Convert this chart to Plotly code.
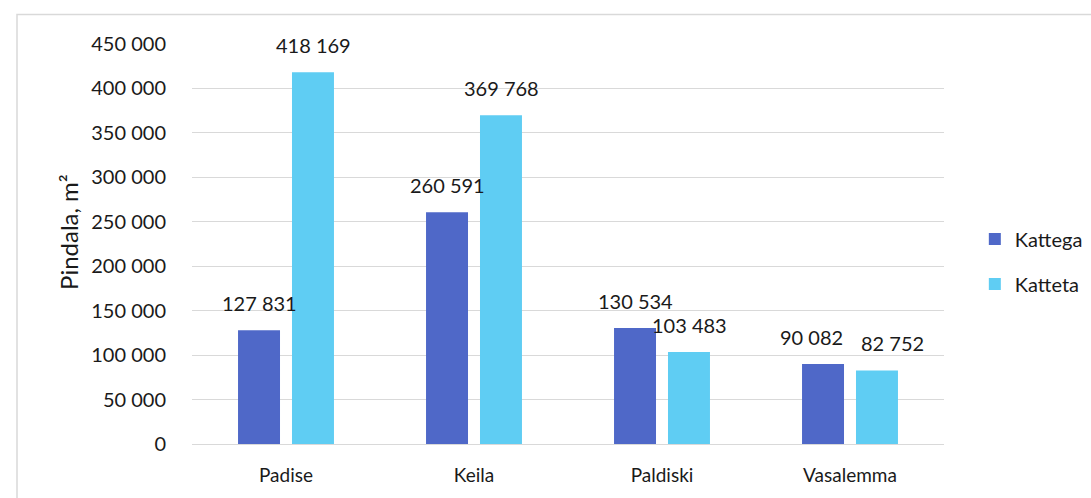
import plotly.graph_objects as go

categories = ["Padise", "Keila", "Paldiski", "Vasalemma"]
kattega = [127831, 260591, 130534, 90082]
katteta = [418169, 369768, 103483, 82752]
series_names = ["Kattega", "Katteta"]
colors = ["#4F68C8", "#5FCDF3"]
tick_vals = [0, 50000, 100000, 150000, 200000, 250000, 300000, 350000, 400000, 450000]

# extra horizontal nudge (px) of data labels, to avoid collisions as in the original
label_nudge = {("Vasalemma", 0): -12, ("Vasalemma", 1): 15}


def fmt(v):
    return f"{v:,}".replace(",", " ")


FONT = "Lato"
TXT = "#1a1a1a"
fig = go.Figure()
for i, (name, vals) in enumerate(zip(series_names, [kattega, katteta])):
    fig.add_trace(go.Bar(
        x=categories, y=vals, name=name, marker_color=colors[i],
        marker_line_width=0, legendgroup=name,
    ))
    for c, v in zip(categories, vals):
        fig.add_annotation(
            x=c, y=v, text=fmt(v), showarrow=False, xref="x", yref="y",
            xshift=(-27 if i == 0 else 27) + label_nudge.get((c, i), 0),
            yshift=13, yanchor="bottom",
            font=dict(family=FONT, size=20, color=TXT),
        )

fig.add_annotation(
    xref="paper", yref="paper", x=-0.165, y=0.53, text="Pindala, m²",
    textangle=-90, showarrow=False, xanchor="center", yanchor="middle",
    font=dict(family=FONT, size=24, color=TXT),
)

fig.add_shape(
    type="rect", xref="paper", yref="paper",
    x0=-0.2327, x1=1.5, y0=-0.5, y1=1.074,
    line=dict(color="#D9D9D9", width=1.5), fillcolor="rgba(0,0,0,0)", layer="below",
)

fig.update_layout(
    width=1091, height=498,
    margin=dict(l=192, r=147, t=44, b=54, autoexpand=False),
    paper_bgcolor="white", plot_bgcolor="white",
    barmode="group", bargap=0.426, bargroupgap=0.222,
    font=dict(family=FONT, size=20, color=TXT),
    legend=dict(
        x=1.041, y=0.456, xanchor="left", yanchor="middle",
        font=dict(family=FONT, size=20, color=TXT),
        tracegroupgap=16, itemwidth=30,
    ),
    showlegend=True,
)
fig.update_xaxes(
    showgrid=False, showline=False, ticks="", tickfont=dict(size=19),
    ticklabelstandoff=18,
)
fig.update_yaxes(
    range=[0, 450000], tickvals=tick_vals,
    ticktext=[fmt(v) for v in tick_vals],
    showgrid=True, gridcolor="#D9D9D9", gridwidth=1,
    zeroline=True, zerolinecolor="#D9D9D9", zerolinewidth=1,
    showline=False, ticks="", ticklabelstandoff=25, tickfont=dict(size=20),
)

fig.write_html("out.html")
